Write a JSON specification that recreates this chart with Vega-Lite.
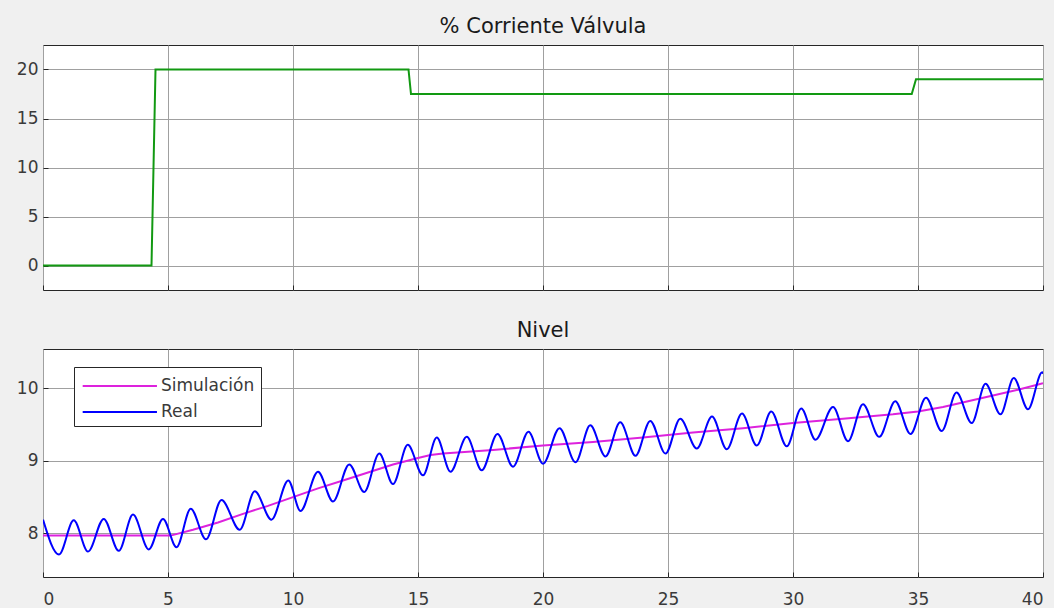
{
  "$schema": "https://vega.github.io/schema/vega-lite/v6.json",
  "background": "#f0f0f0",
  "padding": {"left": 15, "top": 15, "right": 10, "bottom": 0},
  "datasets": {
    "valvula": [
      {"t": 0, "v": 0}, {"t": 4.34, "v": 0}, {"t": 4.5, "v": 20},
      {"t": 14.62, "v": 20}, {"t": 14.72, "v": 17.5},
      {"t": 34.75, "v": 17.5}, {"t": 34.92, "v": 19}, {"t": 40, "v": 19}
    ],
    "sim": [
      {"t": 0, "y": 7.97, "serie": "Simulación"}, {"t": 5.1, "y": 7.97, "serie": "Simulación"},
      {"t": 6, "y": 8.05, "serie": "Simulación"}, {"t": 7, "y": 8.15, "serie": "Simulación"},
      {"t": 8, "y": 8.27, "serie": "Simulación"}, {"t": 9, "y": 8.38, "serie": "Simulación"},
      {"t": 10, "y": 8.5, "serie": "Simulación"}, {"t": 11, "y": 8.62, "serie": "Simulación"},
      {"t": 12, "y": 8.73, "serie": "Simulación"}, {"t": 13, "y": 8.84, "serie": "Simulación"},
      {"t": 14, "y": 8.95, "serie": "Simulación"}, {"t": 15, "y": 9.04, "serie": "Simulación"},
      {"t": 15.5, "y": 9.08, "serie": "Simulación"}, {"t": 16, "y": 9.1, "serie": "Simulación"},
      {"t": 18, "y": 9.15, "serie": "Simulación"}, {"t": 20, "y": 9.21, "serie": "Simulación"},
      {"t": 22, "y": 9.26, "serie": "Simulación"}, {"t": 24, "y": 9.32, "serie": "Simulación"},
      {"t": 26, "y": 9.39, "serie": "Simulación"}, {"t": 28, "y": 9.45, "serie": "Simulación"},
      {"t": 30, "y": 9.52, "serie": "Simulación"}, {"t": 32, "y": 9.58, "serie": "Simulación"},
      {"t": 34, "y": 9.64, "serie": "Simulación"}, {"t": 35, "y": 9.68, "serie": "Simulación"},
      {"t": 36, "y": 9.74, "serie": "Simulación"}, {"t": 37, "y": 9.82, "serie": "Simulación"},
      {"t": 38, "y": 9.9, "serie": "Simulación"}, {"t": 39, "y": 9.98, "serie": "Simulación"},
      {"t": 40, "y": 10.07, "serie": "Simulación"}
    ],
    "real": [
      {"t": 0, "y": 8.19, "serie": "Real"}, {"t": 0.64, "y": 7.71, "serie": "Real"},
      {"t": 1.23, "y": 8.18, "serie": "Real"}, {"t": 1.8, "y": 7.75, "serie": "Real"},
      {"t": 2.43, "y": 8.2, "serie": "Real"}, {"t": 3.03, "y": 7.76, "serie": "Real"},
      {"t": 3.6, "y": 8.26, "serie": "Real"}, {"t": 4.23, "y": 7.78, "serie": "Real"},
      {"t": 4.8, "y": 8.2, "serie": "Real"}, {"t": 5.34, "y": 7.81, "serie": "Real"},
      {"t": 5.91, "y": 8.34, "serie": "Real"}, {"t": 6.52, "y": 7.92, "serie": "Real"},
      {"t": 7.14, "y": 8.46, "serie": "Real"}, {"t": 7.87, "y": 8.05, "serie": "Real"},
      {"t": 8.47, "y": 8.58, "serie": "Real"}, {"t": 9.14, "y": 8.19, "serie": "Real"},
      {"t": 9.81, "y": 8.73, "serie": "Real"}, {"t": 10.3, "y": 8.31, "serie": "Real"},
      {"t": 11.0, "y": 8.85, "serie": "Real"}, {"t": 11.6, "y": 8.44, "serie": "Real"},
      {"t": 12.25, "y": 8.95, "serie": "Real"}, {"t": 12.85, "y": 8.57, "serie": "Real"},
      {"t": 13.45, "y": 9.1, "serie": "Real"}, {"t": 14.0, "y": 8.68, "serie": "Real"},
      {"t": 14.59, "y": 9.22, "serie": "Real"}, {"t": 15.2, "y": 8.8, "serie": "Real"},
      {"t": 15.75, "y": 9.32, "serie": "Real"}, {"t": 16.3, "y": 8.85, "serie": "Real"},
      {"t": 16.95, "y": 9.33, "serie": "Real"}, {"t": 17.55, "y": 8.87, "serie": "Real"},
      {"t": 18.18, "y": 9.37, "serie": "Real"}, {"t": 18.8, "y": 8.92, "serie": "Real"},
      {"t": 19.42, "y": 9.4, "serie": "Real"}, {"t": 20.0, "y": 8.96, "serie": "Real"},
      {"t": 20.66, "y": 9.45, "serie": "Real"}, {"t": 21.3, "y": 8.98, "serie": "Real"},
      {"t": 21.89, "y": 9.49, "serie": "Real"}, {"t": 22.5, "y": 9.06, "serie": "Real"},
      {"t": 23.09, "y": 9.53, "serie": "Real"}, {"t": 23.7, "y": 9.07, "serie": "Real"},
      {"t": 24.29, "y": 9.55, "serie": "Real"}, {"t": 24.9, "y": 9.1, "serie": "Real"},
      {"t": 25.49, "y": 9.58, "serie": "Real"}, {"t": 26.15, "y": 9.17, "serie": "Real"},
      {"t": 26.76, "y": 9.61, "serie": "Real"}, {"t": 27.35, "y": 9.16, "serie": "Real"},
      {"t": 27.96, "y": 9.65, "serie": "Real"}, {"t": 28.55, "y": 9.21, "serie": "Real"},
      {"t": 29.13, "y": 9.68, "serie": "Real"}, {"t": 29.75, "y": 9.2, "serie": "Real"},
      {"t": 30.33, "y": 9.72, "serie": "Real"}, {"t": 30.9, "y": 9.29, "serie": "Real"},
      {"t": 31.6, "y": 9.74, "serie": "Real"}, {"t": 32.2, "y": 9.27, "serie": "Real"},
      {"t": 32.8, "y": 9.78, "serie": "Real"}, {"t": 33.45, "y": 9.33, "serie": "Real"},
      {"t": 34.09, "y": 9.82, "serie": "Real"}, {"t": 34.7, "y": 9.37, "serie": "Real"},
      {"t": 35.32, "y": 9.87, "serie": "Real"}, {"t": 35.95, "y": 9.41, "serie": "Real"},
      {"t": 36.54, "y": 9.94, "serie": "Real"}, {"t": 37.15, "y": 9.52, "serie": "Real"},
      {"t": 37.7, "y": 10.06, "serie": "Real"}, {"t": 38.3, "y": 9.64, "serie": "Real"},
      {"t": 38.83, "y": 10.14, "serie": "Real"}, {"t": 39.4, "y": 9.71, "serie": "Real"},
      {"t": 39.97, "y": 10.22, "serie": "Real"}, {"t": 40, "y": 10.2, "serie": "Real"}
    ]
  },
  "config": {
    "font": "DejaVu Sans",
    "view": {"stroke": "#262626", "strokeWidth": 1, "fill": "white"},
    "axis": {
      "domain": false,
      "gridColor": "#a0a0a0",
      "gridOpacity": 1,
      "gridWidth": 1,
      "ticks": true,
      "tickSize": -5,
      "tickColor": "#262626",
      "labelFont": "DejaVu Sans",
      "labelFontSize": 17,
      "labelColor": "#3a3a3a",
      "title": null
    },
    "title": {"font": "DejaVu Sans", "fontSize": 21, "fontWeight": "normal", "color": "#1a1a1a", "anchor": "middle"}
  },
  "bounds": "flush",
  "spacing": 59,
  "vconcat": [
    {
      "width": 1000,
      "height": 245,
      "title": {"text": "% Corriente Válvula", "offset": 8},
      "data": {"name": "valvula"},
      "mark": {"type": "line", "color": "#129912", "strokeWidth": 2, "clip": true},
      "encoding": {
        "x": {"field": "t", "type": "quantitative", "scale": {"domain": [0, 40], "nice": false},
              "axis": {"values": [0, 5, 10, 15, 20, 25, 30, 35, 40], "labels": false}},
        "y": {"field": "v", "type": "quantitative", "scale": {"domain": [-2.5, 22.5], "nice": false, "zero": false},
              "axis": {"values": [0, 5, 10, 15, 20], "labelPadding": 10}}
      }
    },
    {
      "width": 1000,
      "height": 228,
      "title": {"text": "Nivel", "offset": 8},
      "encoding": {
        "x": {"field": "t", "type": "quantitative", "scale": {"domain": [0, 40], "nice": false},
              "axis": {"values": [0, 5, 10, 15, 20, 25, 30, 35, 40], "labelPadding": 19}},
        "y": {"field": "y", "type": "quantitative", "scale": {"domain": [7.4, 10.54], "nice": false, "zero": false},
              "axis": {"values": [8, 9, 10], "labelPadding": 10}},
        "color": {"field": "serie", "type": "nominal",
                  "scale": {"domain": ["Simulación", "Real"], "range": ["#dd22dd", "#0000ff"]},
                  "legend": {"title": null, "orient": "none", "legendX": 31, "legendY": 322,
                             "fillColor": "white", "strokeColor": "#262626", "padding": 6,
                             "symbolType": "M-0.86,0H5.33", "symbolSize": 576, "symbolStrokeWidth": 2,
                             "symbolFillColor": "transparent",
                             "labelFont": "DejaVu Sans", "labelFontSize": 17, "labelColor": "#3a3a3a",
                             "labelOffset": 55, "rowPadding": 5}}
      },
      "layer": [
        {"data": {"name": "sim"}, "mark": {"type": "line", "strokeWidth": 2, "clip": true}},
        {"data": {"name": "real"}, "mark": {"type": "line", "strokeWidth": 2, "interpolate": "monotone", "clip": true}}
      ]
    }
  ]
}
